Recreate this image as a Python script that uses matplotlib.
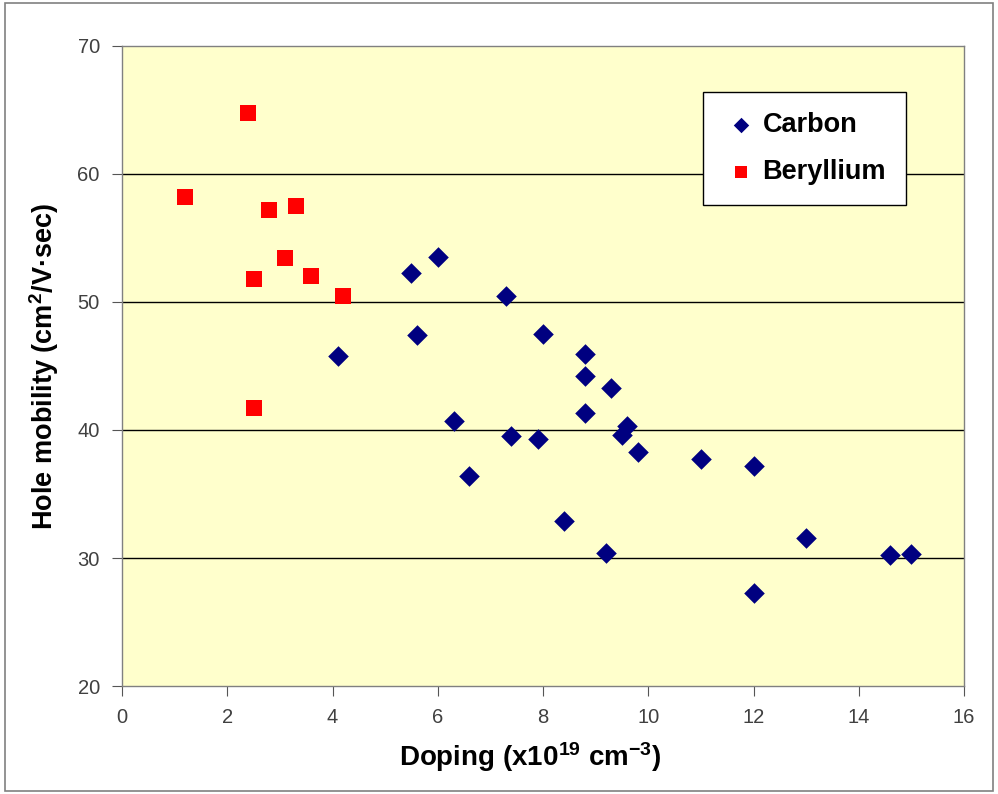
import matplotlib
matplotlib.use("Agg")
import matplotlib.pyplot as plt
from matplotlib.patches import Rectangle

plt.rcParams['font.family'] = ['Liberation Sans', 'DejaVu Sans']
plt.rcParams['mathtext.fontset'] = 'custom'
plt.rcParams['mathtext.rm'] = 'Liberation Sans'
plt.rcParams['mathtext.it'] = 'Liberation Sans:italic'
plt.rcParams['mathtext.bf'] = 'Liberation Sans:bold'
plt.rcParams['mathtext.default'] = 'regular'

carbon_x = [4.1, 5.5, 6.0, 5.6, 6.3, 6.6, 7.3, 7.4, 7.9, 8.0, 8.4, 8.8, 8.8, 8.8,
            9.3, 9.2, 9.6, 9.5, 9.8, 11.0, 12.0, 12.0, 13.0, 14.6, 15.0]
carbon_y = [45.8, 52.3, 53.5, 47.4, 40.7, 36.4, 50.5, 39.5, 39.3, 47.5, 32.9, 45.9, 44.2, 41.3,
            43.3, 30.4, 40.3, 39.6, 38.3, 37.7, 37.2, 27.3, 31.6, 30.2, 30.3]
beryllium_x = [1.2, 2.4, 2.5, 2.8, 3.3, 3.1, 3.6, 4.2, 2.5]
beryllium_y = [58.2, 64.8, 51.8, 57.2, 57.5, 53.4, 52.0, 50.5, 41.7]

x_ticks = [0, 2, 4, 6, 8, 10, 12, 14, 16]
y_ticks = [20, 30, 40, 50, 60, 70]

fig = plt.figure(figsize=(9.98, 7.94), dpi=100)
fig.patch.set_facecolor('white')
fig.add_artist(Rectangle((0.005, 0.004), 0.99, 0.992, transform=fig.transFigure,
                         fill=False, edgecolor='#808080', linewidth=1.2))

ax = fig.add_axes([122/998, 1-686/794, 842/998, 640/794])
ax.set_facecolor('#FFFFCC')
ax.set_xlim(0, 16)
ax.set_ylim(20, 70)
ax.set_xticks(x_ticks)
ax.set_yticks(y_ticks)
for s in ax.spines.values():
    s.set_color('#808080')
    s.set_linewidth(1.0)
ax.tick_params(direction='out', length=7, color='#555555', labelcolor='#404040',
               labelsize=14.5)
ax.tick_params(axis='x', pad=9)
ax.tick_params(axis='y', pad=9)
for yv in [30, 40, 50, 60]:
    ax.axhline(yv, color='black', linewidth=1.0, zorder=1)

ax.scatter(carbon_x, carbon_y, marker='D', s=110, color='#000080', label='Carbon', zorder=3,
           linewidths=0)
ax.scatter(beryllium_x, beryllium_y, marker='s', s=120, color='#FF0000', label='Beryllium',
           zorder=3, linewidths=0)

ax.set_xlabel('Doping (x10$^{19}$ cm$^{-3}$)', fontsize=20, fontweight='bold', labelpad=8)
ax.xaxis.set_label_coords((530-122)/842, -0.085)
ax.set_ylabel('Hole mobility (cm$^{2}$/V·sec)', fontsize=19.5, fontweight='bold', labelpad=12)

leg = ax.legend(loc='upper left', bbox_to_anchor=((703-122)/842, (686-92)/640),
                prop={'size': 19.5, 'weight': 'bold'}, frameon=True, fancybox=False,
                edgecolor='black', framealpha=1, labelspacing=0.75, borderpad=0.75,
                handletextpad=0.15, markerscale=0.75, borderaxespad=0, handlelength=1.3)
leg.get_frame().set_linewidth(1.0)

fig.savefig('out.png', dpi=100)
